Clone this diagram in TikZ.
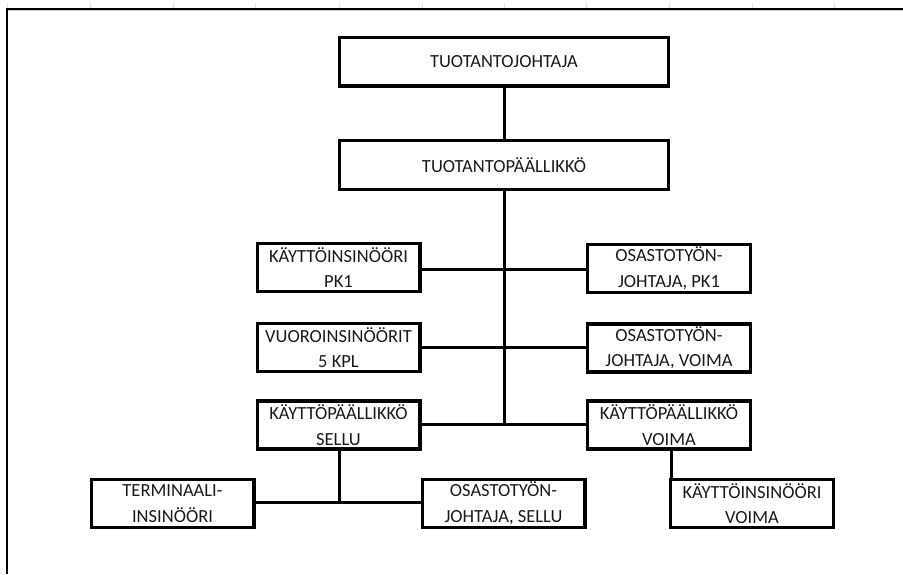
\documentclass[tikz,border=0pt]{standalone}
\usepackage{fontspec}
\setmainfont{Carlito}
\begin{document}
\begin{tikzpicture}[x=1pt,y=-1pt,
  box/.style={draw=black, line width=3.4pt, inner sep=0pt, align=center,
    font=\fontsize{18.5}{25.5}\selectfont, text=black!90},
  wbox/.style={box, minimum width=328.6pt, minimum height=48.6pt},
  sbox/.style={box, minimum width=162.6pt, minimum height=48pt},
  conn/.style={line width=3pt, line cap=rect},
  frame/.style={line width=2.2pt, black},
  tick/.style={line width=1pt, black!12}]
\useasboundingbox (0,0) rectangle (903,574);
% spreadsheet frame
\foreach \tx in {7,90,173,255,339,422,504,586,669,752,834}
  \draw[tick] (\tx,3) -- (\tx,8);
\draw[black!20, line width=1pt] (8,10.8) -- (903,10.8);
\draw[frame] (6,9) -- (903,9);
\draw[line width=1.3pt] (7,9) -- (7,574);
% boxes
\node[wbox] (tj) at (504,61.5) {TUOTANTOJOHTAJA};
\node[wbox] (tp) at (504,165) {TUOTANTOPÄÄLLIKKÖ};
\node[sbox] (k1) at (338.5,267.5) {KÄYTTÖINSINÖÖRI\\PK1};
\node[sbox] (o1) at (669,268.5) {OSASTOTYÖN-\\JOHTAJA, PK1};
\node[sbox] (vu) at (338.5,347.5) {VUOROINSINÖÖRIT\\5 KPL};
\node[sbox] (ov) at (669,348) {OSASTOTYÖN-\\JOHTAJA, VOIMA};
\node[sbox] (ks) at (338.5,425) {KÄYTTÖPÄÄLLIKKÖ\\SELLU};
\node[sbox] (kv) at (669,425) {KÄYTTÖPÄÄLLIKKÖ\\VOIMA};
\node[sbox] (te) at (172.5,503.5) {TERMINAALI-\\INSINÖÖRI};
\node[sbox] (os) at (503.5,503.5) {OSASTOTYÖN-\\JOHTAJA, SELLU};
\node[sbox] (ki) at (752,503.5) {KÄYTTÖINSINÖÖRI\\VOIMA};
% junctions
\coordinate (j1) at (504,269);
\coordinate (j2) at (504,347);
\coordinate (j3) at (504,424);
\coordinate (j4) at (339,502);
% connectors
\draw[conn] (tj.south) -- (tp.north);
\draw[conn] (tp.south) -- (j3);
\draw[conn] (k1.east |- j1) -- (o1.west |- j1);
\draw[conn] (vu.east |- j2) -- (ov.west |- j2);
\draw[conn] (ks.east |- j3) -- (kv.west |- j3);
\draw[conn] (ks.south -| j4) -- (j4);
\draw[conn] (te.east |- j4) -- (os.west |- j4);
\draw[conn] ([xshift=2pt]kv.south) -- ([xshift=2pt]kv.south |- ki.north);
\end{tikzpicture}
\end{document}
